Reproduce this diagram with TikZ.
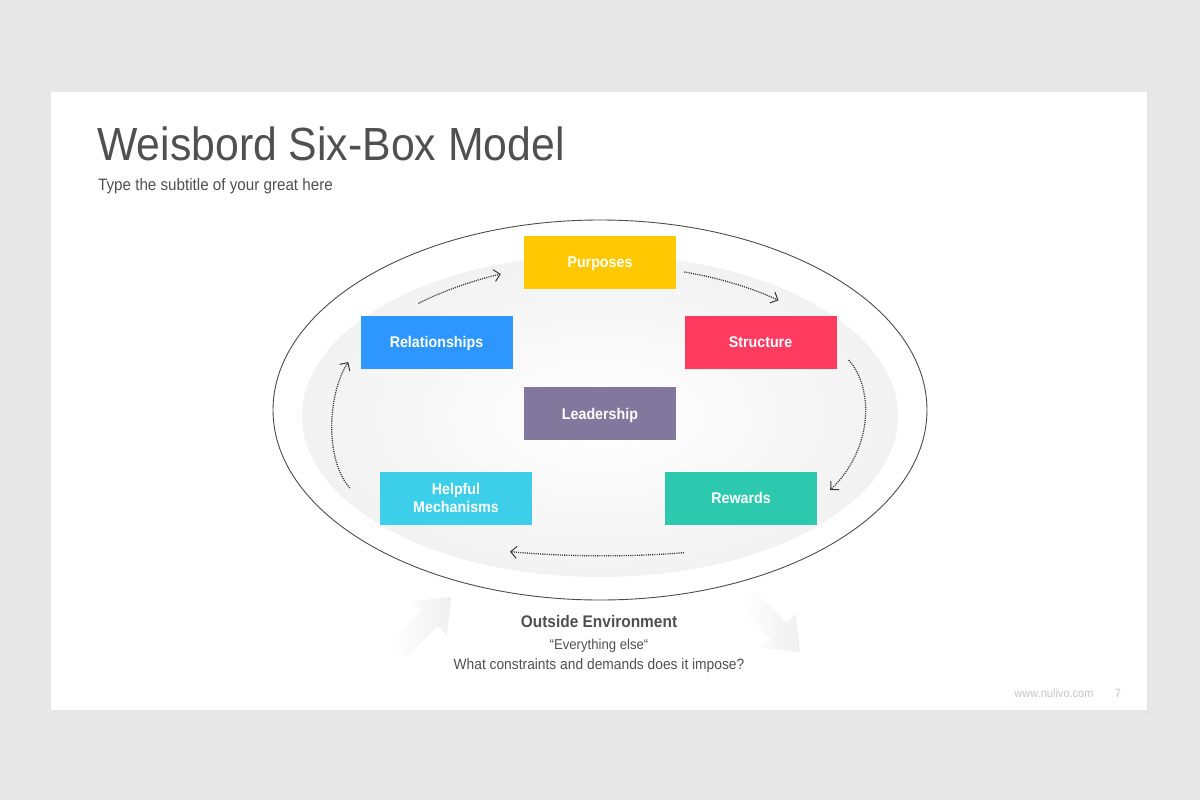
\documentclass[tikz,border=0pt]{standalone}
\usepackage{fontspec}
\setmainfont[FakeStretch=0.92]{Liberation Sans}
\usetikzlibrary{arrows.meta}
\definecolor{pagegray}{HTML}{E9E8E9}
\definecolor{inkgray}{HTML}{505050}
\definecolor{purposecol}{HTML}{FFC800}
\definecolor{relationcol}{HTML}{2D96FF}
\definecolor{structurecol}{HTML}{FF3C5F}
\definecolor{leadercol}{HTML}{82789E}
\definecolor{helpcol}{HTML}{3DCFEA}
\definecolor{rewardcol}{HTML}{2DC9AE}
\tikzset{
  sixbox/.style={minimum width=152pt, minimum height=53pt, inner sep=0pt, text=white,
    font=\fontsize{15.5}{18}\selectfont\bfseries, align=center, text depth=0pt},
  flow/.style={draw=black!78, line width=1.3pt, dash pattern=on 1.1pt off 1.1pt,
    -{Straight Barb[length=6pt,width=12pt,line width=1pt]}},
  envtext/.style={text=inkgray, inner sep=0pt}
}
\begin{document}
\begin{tikzpicture}[x=1pt,y=-1pt]
\useasboundingbox (0,0) rectangle (1200,800);
\fill[pagegray] (0,0) rectangle (1200,800);
\fill[black!10] (50,92) rectangle (1149,713);
\fill[white] (51,92) rectangle (1147,710);
\node[anchor=base west, text=inkgray, inner sep=0pt, font=\fontsize{46.5}{52}\selectfont] (title) at (97,160) {Weisbord Six-Box Model};
\node[anchor=base west, text=inkgray, inner sep=0pt, font=\fontsize{16.5}{19}\selectfont] (subtitle) at (98,190) {Type the subtitle of your great here};
% faint arrows of the outside environment
\shade[left color=white, right color=black!6] (451,597) -- (412.8,601.2) -- (422,610.4) -- (390.2,642.2) -- (405.8,657.8) -- (437.6,626) -- (446.8,635.2) -- cycle;
\shade[left color=white, right color=black!6] (800,652) -- (795.8,613.8) -- (786.6,623) -- (754.8,591.2) -- (739.2,606.8) -- (771,638.6) -- (761.8,647.8) -- cycle;
% ellipses
\fill[white] (600,410) ellipse [x radius=327, y radius=190];
\draw[black!70, line width=0.9pt] (600,410) ellipse [x radius=327, y radius=190];
\shade[inner color=white, outer color=black!5] (600,416) ellipse [x radius=298, y radius=161];
% boxes
\node[sixbox, fill=purposecol] (pur) at (600,262) {Purposes};
\node[sixbox, fill=relationcol] (rel) at (436.5,342) {Relationships};
\node[sixbox, fill=structurecol] (str) at (760.5,342) {Structure};
\node[sixbox, fill=leadercol] (lead) at (600,413.5) {Leadership};
\node[sixbox, fill=helpcol] (help) at (456,498) {Helpful\\Mechanisms};
\node[sixbox, fill=rewardcol] (rew) at (741,498) {Rewards};
% cycle
\draw[flow] ([shift={(-18,-12)}]rel.north) .. controls (445,290) and (475,280) .. ([shift={(-23,12)}]pur.west);
\draw[flow] ([shift={(8,10)}]pur.east) .. controls (715,277) and (750,287) .. ([shift={(18,-15)}]str.north);
\draw[flow] ([shift={(12,18)}]str.east) .. controls (875,390) and (872,450) .. ([shift={(13,-8)}]rew.east);
\draw[flow] ([shift={(-57,28)}]rew.south) .. controls (630,557) and (570,557) .. ([shift={(54,27)}]help.south);
\draw[flow] ([shift={(-30,-10)}]help.west) .. controls (325,460) and (327,395) .. ([shift={(-12,20)}]rel.west);
% outside environment
\node[envtext, font=\fontsize{16.8}{19}\selectfont\bfseries] (env) at (599,621) {Outside Environment};
\node[envtext, font=\fontsize{14.3}{16}\selectfont] (else) at (599,646) {“Everything else“};
\node[envtext, font=\fontsize{15}{17}\selectfont] (ask) at (599,666) {What constraints and demands does it impose?};
\node[text=black!22, inner sep=0pt, font=\fontsize{12}{14}\selectfont] (site) at (1054,693) {www.nulivo.com};
\node[text=black!22, inner sep=0pt, font=\fontsize{12}{14}\selectfont] (page) at (1118,693) {7};
\end{tikzpicture}
\end{document}
